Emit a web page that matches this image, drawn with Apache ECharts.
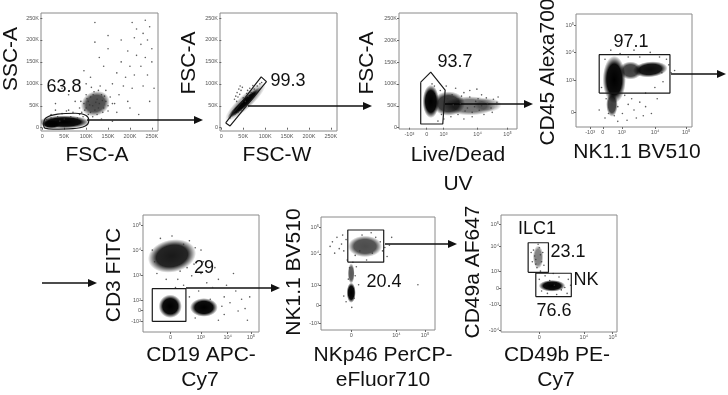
<!DOCTYPE html>
<html>
<head>
<meta charset="utf-8">
<script src="https://cdn.jsdelivr.net/npm/echarts@6/dist/echarts.min.js"></script>
<style>
  html, body { margin: 0; background: #fff; }
  #chart { width: 728px; height: 395px; }
</style>
</head>
<body>
<div id="chart"></div>
<script>
// tick marks / labels (linear axes in K, log-like axes in display units 0-100)
const linTicks = [0, 50, 100, 150, 200, 250]
const linLabels = ['0', '50K', '100K', '150K', '200K', '250K']
const p3xTicks = [8.8, 23.5, 37.7, 66.6, 92]
const p3xLabels = ['-10³', '0', '10³', '10⁴', '10⁵']
const p4xTicks = [12.2, 23.1, 39.5, 68.2, 94.9]
const p4xLabels = ['-10³', '0', '10³', '10⁴', '10⁵']
const p4yTicks = [12.9, 41.2, 66.2, 90]
const p4yLabels = ['0', '10³', '10⁴', '10⁵']
const p5xTicks = [23.7, 49.8, 73, 93]
const p5xLabels = ['0', '10³', '10⁴', '10⁵']
const p5yTicks = [9.1, 18.6, 27.1, 48.6, 70, 91.4]
const p5yLabels = ['-10²', '0', '10²', '10³', '10⁴', '10⁵']
const p6xTicks = [26.5, 66.2, 91.2]
const p6xLabels = ['0', '10⁴', '10⁵']
const p6yTicks = [5.9, 22.1, 39.2, 67.3, 91]
const p6yLabels = ['-10³', '0', '10³', '10⁴', '10⁵']
const p7xTicks = [32.9, 71.4, 96.3]
const p7xLabels = ['0', '10⁴', '10⁵']
const p7yTicks = [1.7, 23.1, 37.3, 51.6, 72.9, 92]
const p7yLabels = ['-10⁴', '-10³', '0', '10³', '10⁴', '10⁵']

// gate percentages / names
const gateText = ['63.8', '99.3', '93.7', '97.1', '29', '20.4', 'ILC1', '23.1', 'NK', '76.6']
const xTitles = ['FSC-A', 'FSC-W', 'Live/Dead', 'UV', 'NK1.1 BV510', 'CD19 APC-', 'Cy7', 'NKp46 PerCP-', 'eFluor710', 'CD49b PE-', 'Cy7']
const yTitles = ['SSC-A', 'FSC-A', 'FSC-A', 'CD45 Alexa700', 'CD3 FITC', 'NK1.1 BV510', 'CD49a AF647']

// gates
const gate1 = [[3, 5], [8, 22], [35, 31], [75, 33], [100, 28], [106, 16], [98, 4], [70, -2], [25, -3], [6, -1], [3, 5]]
const gate2 = [[10, 11], [20, 4], [103, 105], [91, 116], [10, 11]]
const gate3 = [[18.4, 104], [18.4, 8.4], [37.1, 8.4], [39.1, 86], [26.9, 127], [18.4, 104]]
const gate4 = [[20, 30], [81, 30], [81, 64], [20, 64], [20, 30]]
const gate5 = [[8, 9], [37, 9], [37, 37], [8, 37], [8, 9]]
const gate6 = [[23.5, 60], [55, 60], [55, 88.5], [23.5, 88.5], [23.5, 60]]
const gate7a = [[23.4, 51], [40.9, 51], [40.9, 76.3], [23.4, 76.3], [23.4, 51]]
const gate7b = [[30, 30.2], [60.6, 30.2], [60.6, 50.2], [30, 50.2], [30, 30.2]]

// dense populations: [cx, cy, rx, ry, tilt deg, density]
const p1Blobs = [[50, 13, 58, 15, 0, 1], [20, 8, 22, 10, 0, 1], [121, 55, 34, 28, 25, 0.7]]
const p2Blobs = [[55, 59, 62, 16, 43, 0.35], [52, 56, 52, 9, 43, 1]]
const p3Blobs = [[27, 60, 7, 38, 0, 1], [42, 55, 14, 28, 0, 0.8], [60, 50, 22, 22, 0, 0.55], [75, 52, 12, 16, 0, 0.3]]
const p4Blobs = [[33, 42, 10, 21, 0, 1], [64, 51, 15, 7, 5, 0.95], [47, 50, 10, 8, 0, 0.75], [31, 20, 5, 11, 0, 0.75]]
const p5Blobs = [[25, 65, 21, 14, 12, 0.9], [23.5, 22, 10, 10, 0, 1], [52.5, 21, 12, 8, 0, 1]]
const p6Blobs = [[38.6, 74, 15, 9.5, 0, 0.7], [26.5, 33, 4, 9, 0, 1], [26.5, 50, 3, 9, 0, 0.65]]
const p7Blobs = [[32, 64, 4.5, 10, 0, 0.5], [44, 39.5, 11.5, 5, 0, 1]]

// single events
const p1Dots = [[205, 240], [215, 225], [230, 215], [245, 230], [210, 205], [225, 190], [240, 200], [250, 180], [195, 175], [215, 165], [235, 160], [180, 150], [200, 140], [225, 140], [250, 150], [170, 125], [190, 115], [210, 120], [240, 120], [160, 100], [185, 95], [205, 90], [230, 95], [150, 180], [130, 160], [95, 130], [110, 115], [140, 140], [60, 75], [75, 60], [45, 90], [30, 55], [85, 85], [150, 210], [120, 195], [255, 90], [245, 60], [170, 35], [200, 45], [220, 30], [135, 20], [160, 15], [60, 40], [20, 30], [180, 200], [235, 245], [195, 60], [175, 75], [165, 55], [120, 240], [100, 100], [70, 105],
  [100, 45], [105, 60], [110, 70], [115, 50], [120, 40], [125, 65], [130, 55], [135, 75], [140, 45], [145, 60], [110, 35], [95, 55], [100, 75], [118, 82], [128, 85], [138, 35], [150, 50], [155, 70], [90, 35], [105, 30], [125, 30], [132, 95], [112, 92], [145, 85], [160, 55], [85, 45], [93, 25], [115, 25], [108, 52], [122, 58], [128, 45], [137, 62], [102, 66], [116, 75], [142, 72], [150, 38], [88, 60], [97, 40],
  [20, 22], [35, 25], [50, 20], [65, 25], [80, 22], [10, 18], [45, 32], [70, 35], [55, 38], [30, 40], [85, 30], [40, 15]]
const p2Dots = [[30, 65], [33, 72], [36, 80], [40, 88], [43, 95], [38, 70], [45, 85], [48, 92], [35, 60], [42, 76], [25, 30], [20, 22], [28, 38], [55, 60], [62, 72], [68, 80], [75, 88], [82, 95], [88, 100], [92, 103], [50, 68], [58, 78], [65, 90], [72, 96], [60, 85], [52, 45], [45, 40], [38, 35], [32, 32], [47, 58]]
const p3Dots = [[35, 85], [40, 95], [45, 75], [50, 65], [55, 80], [60, 70], [65, 60], [70, 75], [75, 55], [80, 65], [58, 45], [62, 35], [68, 40], [72, 30], [50, 30], [44, 25], [38, 20], [55, 20], [78, 45], [83, 58], [66, 88], [48, 90], [30, 95], [28, 100], [52, 55], [42, 40], [60, 85], [70, 50], [74, 68], [64, 48], [56, 38], [46, 52], [36, 30], [33, 15], [62, 25], [79, 35], [84, 70], [53, 72], [41, 66], [67, 66]]
const p4Dots = [[20, 15], [25, 8], [28, 12], [36, 18], [40, 12], [45, 20], [50, 15], [55, 22], [60, 18], [65, 12], [42, 28], [48, 25], [70, 25], [75, 40], [80, 55], [82, 48], [78, 60], [72, 62], [55, 62], [45, 62], [38, 65], [30, 68], [25, 60], [22, 35], [85, 50], [36, 5], [52, 8], [60, 30], [26, 25], [33, 10], [58, 10], [44, 6], [68, 35], [74, 48], [64, 66], [50, 68]]
const p5Dots = [[35, 75], [40, 78], [45, 72], [38, 55], [30, 45], [35, 40], [42, 48], [50, 50], [55, 42], [60, 38], [65, 45], [70, 30], [75, 25], [80, 35], [85, 28], [88, 20], [90, 10], [70, 15], [65, 10], [45, 12], [10, 60], [8, 70], [12, 50], [50, 70], [52, 60], [48, 35], [78, 50], [92, 30], [40, 30], [58, 28], [15, 80], [25, 82], [32, 52], [44, 58], [62, 55], [72, 40], [68, 22], [82, 18], [20, 45], [28, 38]]
const p6Dots = [[10, 78], [14, 82], [18, 76], [20, 70], [16, 72], [12, 68], [22, 80], [48, 82], [52, 78], [54, 70], [45, 68], [30, 66], [28, 60], [25, 55], [30, 48], [24, 45], [33, 40], [29, 28], [22, 25], [60, 75], [58, 65], [40, 62], [85, 40], [20, 30], [27, 20], [8, 74], [19, 84], [62, 82], [44, 86], [36, 84], [56, 73], [31, 56], [23, 62], [34, 70]]
const p7Dots = [[28, 70], [30, 58], [33, 72], [35, 60], [31, 55], [29, 65], [36, 68], [34, 52], [27, 60], [32, 75], [33, 45], [35, 35], [55, 38], [58, 45], [50, 47], [40, 33], [48, 32], [60, 40], [45, 50], [38, 48], [30, 62], [34, 66], [37, 57], [26, 68], [52, 36], [42, 44], [57, 33], [46, 40]]

const FONT = '"Liberation Sans", Arial, sans-serif'
const chart = echarts.init(document.getElementById('chart'))

const grids = [], xAxes = [], yAxes = [], series = []

function axis(ticks, labels, min, max, idx) {
  return {
    type: 'value', gridIndex: idx, min: min, max: max,
    splitLine: { show: false },
    axisLine: { show: false },
    axisTick: { show: true, customValues: ticks, length: 2, lineStyle: { color: '#666' } },
    axisLabel: {
      customValues: ticks, fontSize: 5.5, color: '#555', margin: 2, fontFamily: FONT,
      formatter: (v) => {
        const i = ticks.findIndex((t) => Math.abs(t - v) < 1e-6)
        return i < 0 ? '' : labels[i]
      },
    },
  }
}

function renderBlob(params, api) {
  const c = api.coord([api.value(0), api.value(1)])
  const rx = api.size([api.value(2), 0])[0]
  const ry = api.size([0, api.value(3)])[1]
  const a = api.value(5)
  return {
    type: 'circle',
    x: c[0], y: c[1],
    scaleX: rx / ry,
    rotation: api.value(4) * Math.PI / 180,
    shape: { cx: 0, cy: 0, r: ry },
    style: {
      fill: new echarts.graphic.RadialGradient(0.5, 0.5, 0.5, [
        { offset: 0, color: 'rgba(0,0,0,' + a + ')' },
        { offset: 0.65, color: 'rgba(0,0,0,' + (a * 0.95) + ')' },
        { offset: 1, color: 'rgba(0,0,0,0)' },
      ]),
    },
  }
}

function addPanel(rect, xa, ya, dots, blobs, gates) {
  const idx = grids.length
  grids.push({ left: rect[0], top: rect[1], width: rect[2], height: rect[3], show: true, borderColor: '#8a8a8a', borderWidth: 1 })
  xAxes.push(axis(xa[0], xa[1], xa[2], xa[3], idx))
  yAxes.push(axis(ya[0], ya[1], ya[2], ya[3], idx))
  series.push({
    type: 'custom', xAxisIndex: idx, yAxisIndex: idx, clip: true, silent: true,
    encode: { x: 0, y: 1 }, renderItem: renderBlob, data: blobs,
  })
  series.push({
    type: 'scatter', xAxisIndex: idx, yAxisIndex: idx, silent: true,
    symbolSize: 1.6, itemStyle: { color: '#333' }, data: dots,
  })
  gates.forEach((g) => {
    series.push({
      type: 'line', xAxisIndex: idx, yAxisIndex: idx, silent: true,
      symbol: 'none', smooth: g === gate1 ? 0.4 : false,
      lineStyle: { color: '#1a1a1a', width: 1.2 }, data: g,
    })
  })
}

addPanel([41, 13, 117, 118], [linTicks, linLabels, -3, 264], [linTicks, linLabels, -7.5, 261.5], p1Dots, p1Blobs, [gate1])
addPanel([220, 13, 117, 118], [linTicks, linLabels, -3, 264], [linTicks, linLabels, -7.5, 261.5], p2Dots, p2Blobs, [gate2])
addPanel([399, 13, 118, 116], [p3xTicks, p3xLabels, 0, 100], [linTicks, linLabels, -3, 262], p3Dots, p3Blobs, [gate3])
addPanel([576, 14, 116, 113], [p4xTicks, p4xLabels, 0, 100], [p4yTicks, p4yLabels, 0, 100], p4Dots, p4Blobs, [gate4])
addPanel([143, 215, 116, 117], [p5xTicks, p5xLabels, 0, 100], [p5yTicks, p5yLabels, 0, 100], p5Dots, p5Blobs, [gate5])
addPanel([321, 217, 114, 113], [p6xTicks, p6xLabels, 0, 100], [p6yTicks, p6yLabels, 0, 100], p6Dots, p6Blobs, [gate6])
addPanel([501, 215, 116, 117], [p7xTicks, p7xLabels, 0, 100], [p7yTicks, p7yLabels, 0, 100], p7Dots, p7Blobs, [gate7a, gate7b])

// text placement (pixels)
const gateTextPos = [[64, 87], [288, 81], [455, 62], [631, 42], [204, 268], [384, 282], [537, 229], [568, 252], [586, 280], [554, 311]]
const xTitlePos = [[97, 155], [277, 155], [458, 155], [458, 184], [637, 152], [201, 355], [200, 380], [383, 355], [383, 380], [557, 355], [556, 380]]
const yTitlePos = [[11, 59], [189, 63], [367, 63], [548, 72], [114, 275], [294, 272], [473, 272]]
// arrows: [x start, x tip, y]
const arrowPos = [[87, 203, 120], [248, 372, 106], [445, 533, 104], [671, 726, 74], [42, 97, 283], [186, 280, 288], [385, 457, 244]]

const graphics = []
function txt(s, p, size, rot) {
  graphics.push({
    type: 'text', x: p[0], y: p[1], rotation: rot || 0, silent: true,
    style: { text: s, font: size + 'px ' + FONT, fill: '#111', align: 'center', verticalAlign: 'middle' },
  })
}
gateText.forEach((s, i) => txt(s, gateTextPos[i], 18))
xTitles.forEach((s, i) => txt(s, xTitlePos[i], 21))
yTitles.forEach((s, i) => txt(s, yTitlePos[i], 21, Math.PI / 2))
arrowPos.forEach((a) => {
  graphics.push({ type: 'line', silent: true, shape: { x1: a[0], y1: a[2], x2: a[1] - 6, y2: a[2] }, style: { stroke: '#111', lineWidth: 1.4 } })
  graphics.push({ type: 'polygon', silent: true, shape: { points: [[a[1], a[2]], [a[1] - 9, a[2] - 4], [a[1] - 9, a[2] + 4]] }, style: { fill: '#111' } })
})

chart.setOption({
  animation: false,
  backgroundColor: '#fff',
  grid: grids,
  xAxis: xAxes,
  yAxis: yAxes,
  series: series,
  graphic: graphics,
})
</script>
</body>
</html>
